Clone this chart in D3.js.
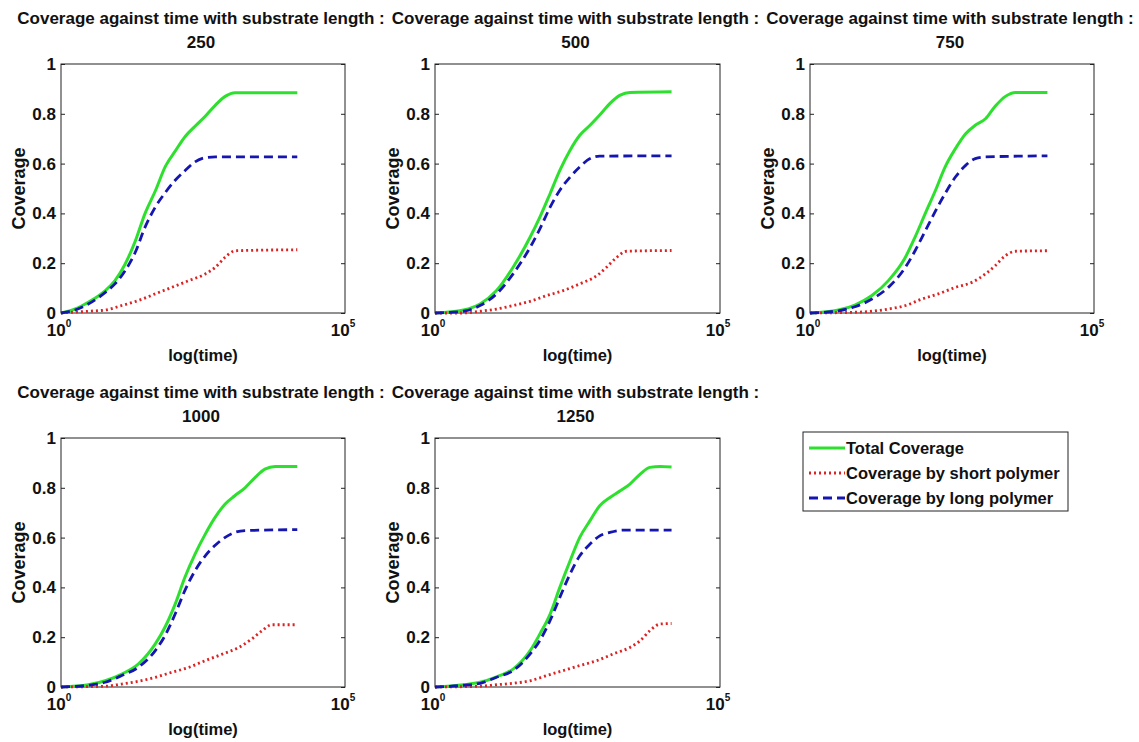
<!DOCTYPE html>
<html><head><meta charset="utf-8">
<script src="https://cdn.jsdelivr.net/npm/d3@7"></script>
<style>
body{margin:0;background:#fff;}
text{font-family:"Liberation Sans",Arial,sans-serif;font-weight:bold;fill:#111;}
</style></head>
<body><svg id="c" width="1139" height="742"></svg>
<script>
// ---- data (x values are log10(time)) ----
const substrateLengths = [250, 500, 750, 1000, 1250];
const seriesNames = ["Total Coverage", "Coverage by short polymer", "Coverage by long polymer"];
const yTicks = [0, 0.2, 0.4, 0.6, 0.8, 1];
const xTickExponents = [0, 5];

// substrate length 250
const tTotal250 = [0, 0.25, 0.48, 0.78, 0.95, 1.13, 1.31, 1.48, 1.66, 1.84, 2.01, 2.19, 2.36, 2.54, 2.72, 2.89, 3.07, 4.16];
const total250  = [0, 0.016, 0.043, 0.09, 0.13, 0.197, 0.29, 0.40, 0.49, 0.59, 0.65, 0.71, 0.75, 0.79, 0.835, 0.87, 0.885, 0.885];
const tLong250  = [0, 0.25, 0.48, 0.78, 0.95, 1.13, 1.31, 1.48, 1.66, 1.84, 2.01, 2.19, 2.36, 2.54, 2.72, 4.16];
const long250   = [0, 0.012, 0.036, 0.083, 0.117, 0.17, 0.245, 0.345, 0.425, 0.485, 0.533, 0.573, 0.607, 0.624, 0.627, 0.627];
const tShort250 = [0, 0.48, 0.78, 1.07, 1.36, 1.66, 1.95, 2.25, 2.54, 2.72, 2.89, 3.07, 4.16];
const short250  = [0, 0.007, 0.012, 0.03, 0.05, 0.077, 0.103, 0.13, 0.157, 0.184, 0.224, 0.25, 0.254];

// substrate length 500
const tTotal500 = [0, 0.5, 0.79, 1.08, 1.37, 1.67, 1.84, 2.02, 2.19, 2.37, 2.54, 2.72, 2.89, 3.07, 3.25, 3.42, 4.15];
const total500  = [0, 0.012, 0.036, 0.09, 0.184, 0.305, 0.385, 0.48, 0.573, 0.654, 0.714, 0.754, 0.795, 0.842, 0.875, 0.886, 0.889];
const tLong500  = [0, 0.5, 0.79, 1.08, 1.37, 1.67, 1.84, 2.02, 2.19, 2.37, 2.54, 2.72, 2.89, 4.15];
const long500   = [0, 0.007, 0.03, 0.077, 0.157, 0.264, 0.338, 0.425, 0.493, 0.546, 0.587, 0.62, 0.63, 0.631];
const tShort500 = [0, 0.5, 0.79, 1.08, 1.37, 1.67, 1.96, 2.25, 2.54, 2.84, 3.01, 3.19, 3.36, 4.15];
const short500  = [0, 0, 0.007, 0.016, 0.03, 0.047, 0.07, 0.09, 0.117, 0.15, 0.184, 0.224, 0.248, 0.251];

// substrate length 750
const tTotal750 = [0, 0.5, 0.79, 1.09, 1.38, 1.68, 1.85, 2.03, 2.21, 2.38, 2.56, 2.74, 2.91, 3.09, 3.26, 3.44, 3.62, 4.18];
const total750  = [0, 0.012, 0.032, 0.07, 0.13, 0.224, 0.305, 0.40, 0.493, 0.587, 0.66, 0.72, 0.754, 0.78, 0.83, 0.87, 0.886, 0.886];
const tLong750  = [0, 0.5, 0.79, 1.09, 1.38, 1.68, 1.85, 2.03, 2.21, 2.38, 2.56, 2.74, 2.91, 3.09, 4.18];
const long750   = [0, 0.009, 0.025, 0.056, 0.103, 0.184, 0.25, 0.33, 0.41, 0.48, 0.546, 0.593, 0.62, 0.627, 0.631];
const tShort750 = [0, 0.79, 1.09, 1.38, 1.68, 1.97, 2.26, 2.56, 2.85, 3.09, 3.26, 3.44, 3.62, 4.18];
const short750  = [0, 0.003, 0.007, 0.016, 0.03, 0.056, 0.077, 0.103, 0.123, 0.157, 0.19, 0.23, 0.248, 0.25];

// substrate length 1000
const tTotal1000 = [0, 0.48, 0.78, 1.07, 1.36, 1.66, 1.83, 2.01, 2.18, 2.36, 2.54, 2.71, 2.89, 3.06, 3.24, 3.42, 3.59, 3.77, 4.16];
const total1000  = [0, 0.009, 0.025, 0.052, 0.092, 0.173, 0.24, 0.333, 0.44, 0.534, 0.614, 0.68, 0.735, 0.768, 0.80, 0.842, 0.875, 0.886, 0.886];
const tLong1000  = [0, 0.48, 0.78, 1.07, 1.36, 1.66, 1.83, 2.01, 2.18, 2.36, 2.54, 2.71, 2.89, 3.06, 3.24, 4.16];
const long1000   = [0, 0.007, 0.019, 0.046, 0.079, 0.146, 0.206, 0.293, 0.387, 0.467, 0.527, 0.568, 0.601, 0.621, 0.628, 0.632];
const tShort1000 = [0, 0.78, 1.07, 1.36, 1.66, 1.95, 2.25, 2.54, 2.84, 3.13, 3.36, 3.54, 3.71, 4.16];
const short1000  = [0, 0.003, 0.012, 0.023, 0.039, 0.059, 0.079, 0.106, 0.132, 0.159, 0.193, 0.226, 0.25, 0.25];

// substrate length 1250
const tTotal1250 = [0, 0.5, 0.79, 1.08, 1.37, 1.67, 1.84, 2.02, 2.19, 2.37, 2.54, 2.72, 2.89, 3.07, 3.25, 3.42, 3.60, 3.77, 3.95, 4.15];
const total1250  = [0, 0.009, 0.019, 0.041, 0.072, 0.146, 0.213, 0.293, 0.40, 0.507, 0.601, 0.668, 0.728, 0.761, 0.788, 0.815, 0.855, 0.882, 0.886, 0.884];
const tLong1250  = [0, 0.5, 0.79, 1.08, 1.37, 1.67, 1.84, 2.02, 2.19, 2.37, 2.54, 2.72, 2.89, 3.07, 3.30, 4.15];
const long1250   = [0, 0.007, 0.015, 0.039, 0.066, 0.133, 0.187, 0.267, 0.36, 0.454, 0.527, 0.574, 0.607, 0.621, 0.63, 0.63];
const tShort1250 = [0, 0.79, 1.08, 1.37, 1.67, 1.96, 2.25, 2.54, 2.84, 3.13, 3.42, 3.60, 3.77, 3.95, 4.15];
const short1250  = [0, 0.003, 0.009, 0.015, 0.025, 0.046, 0.066, 0.086, 0.106, 0.133, 0.159, 0.186, 0.226, 0.253, 0.255];

const panelData = [
  {len: substrateLengths[0], t: [tTotal250, tShort250, tLong250], s: [total250, short250, long250]},
  {len: substrateLengths[1], t: [tTotal500, tShort500, tLong500], s: [total500, short500, long500]},
  {len: substrateLengths[2], t: [tTotal750, tShort750, tLong750], s: [total750, short750, long750]},
  {len: substrateLengths[3], t: [tTotal1000, tShort1000, tLong1000], s: [total1000, short1000, long1000]},
  {len: substrateLengths[4], t: [tTotal1250, tShort1250, tLong1250], s: [total1250, short1250, long1250]}
];

// ---- layout / styles ----
const boxes = [
  {l: 61, r: 345, t: 64, b: 313},
  {l: 435, r: 720, t: 64, b: 313},
  {l: 810, r: 1094, t: 64, b: 313},
  {l: 61, r: 345, t: 438, b: 687},
  {l: 435, r: 720, t: 438, b: 687}
];
const styles = [
  {color: "#2ee02e", dash: null, w: 3},
  {color: "#dd2222", dash: "2,3", w: 2.8},
  {color: "#1515b0", dash: "9,5", w: 2.8}
];

const svg = d3.select("#c");

panelData.forEach((p, i) => {
  const b = boxes[i];
  const x = d3.scaleLog().domain([1, 1e5]).range([b.l, b.r]);
  const y = d3.scaleLinear().domain([0, 1]).range([b.b, b.t]);
  const g = svg.append("g");
  const cx = (b.l + b.r) / 2;

  // title
  g.append("text").attr("x", cx - 2).attr("y", b.t - 40).attr("text-anchor", "middle")
    .style("font-size", "17px").text("Coverage against time with substrate length :");
  g.append("text").attr("x", cx - 2).attr("y", b.t - 16).attr("text-anchor", "middle")
    .style("font-size", "17px").text(p.len);

  // box
  g.append("rect").attr("x", b.l).attr("y", b.t).attr("width", b.r - b.l).attr("height", b.b - b.t)
    .attr("fill", "none").attr("stroke", "#222").attr("stroke-width", 1);

  // y axis (left) and inner ticks on right
  const yAxis = d3.axisLeft(y).tickValues(yTicks).tickSize(-4).tickPadding(5)
    .tickFormat(d => d === 0 ? "0" : d === 1 ? "1" : d3.format(".1f")(d));
  const ya = g.append("g").attr("transform", `translate(${b.l},0)`).call(yAxis);
  ya.select(".domain").remove();
  ya.selectAll("line").attr("stroke", "#222");
  ya.selectAll("text").style("font-size", "17px").style("font-family", "'Liberation Sans',Arial,sans-serif")
    .style("font-weight", "bold").attr("fill", "#111");
  const yr = g.append("g").attr("transform", `translate(${b.r},0)`)
    .call(d3.axisRight(y).tickValues(yTicks).tickSize(-4).tickFormat(""));
  yr.select(".domain").remove();
  yr.selectAll("line").attr("stroke", "#222");

  // x tick labels 10^0 and 10^5
  xTickExponents.forEach(e => {
    const t = g.append("text").attr("x", x(Math.pow(10, e)) - 2).attr("y", b.b + 23)
      .attr("text-anchor", "middle").style("font-size", "17px");
    t.append("tspan").text("10");
    t.append("tspan").attr("dy", -9).style("font-size", "10px").text(e);
  });

  // axis labels
  g.append("text").attr("x", cx).attr("y", b.b + 48).attr("text-anchor", "middle")
    .style("font-size", "16.5px").text("log(time)");
  g.append("text").attr("transform", `translate(${b.l - 36},${(b.t + b.b) / 2}) rotate(-90)`)
    .attr("text-anchor", "middle").style("font-size", "18px").text("Coverage");

  // lines
  p.s.forEach((vals, k) => {
    const pts = p.t[k].map((lt, j) => [Math.pow(10, lt), vals[j]]);
    const line = d3.line().x(d => x(d[0])).y(d => y(d[1])).curve(d3.curveMonotoneX);
    const st = styles[k];
    g.append("path").attr("d", line(pts)).attr("fill", "none")
      .attr("stroke", st.color).attr("stroke-width", st.w)
      .attr("stroke-dasharray", st.dash);
  });
});

// legend
const lg = svg.append("g");
const L = {x: 803, y: 432, w: 265, h: 79};
lg.append("rect").attr("x", L.x).attr("y", L.y).attr("width", L.w).attr("height", L.h)
  .attr("fill", "#fff").attr("stroke", "#222").attr("stroke-width", 1);
seriesNames.forEach((name, k) => {
  const yy = L.y + 16 + k * 25;
  const st = styles[k];
  lg.append("line").attr("x1", L.x + 6).attr("x2", L.x + 42).attr("y1", yy).attr("y2", yy)
    .attr("stroke", st.color).attr("stroke-width", st.w).attr("stroke-dasharray", st.dash);
  lg.append("text").attr("x", L.x + 43).attr("y", yy + 6).style("font-size", "16.5px").text(name);
});
</script></body></html>
